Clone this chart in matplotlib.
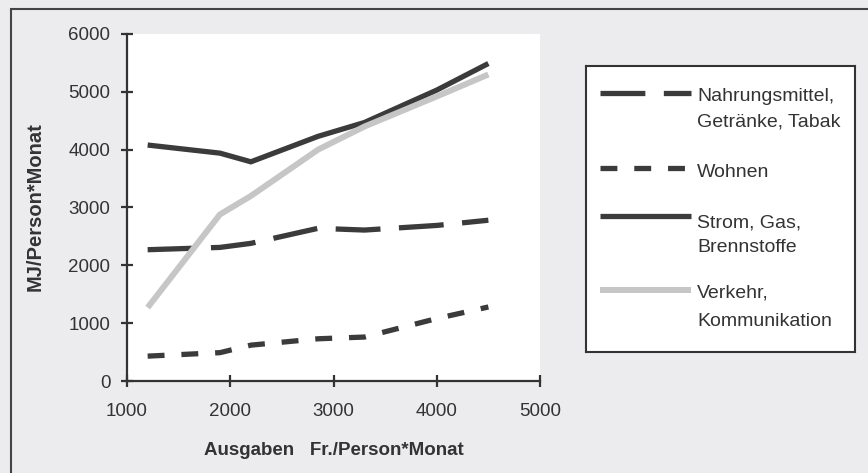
import matplotlib
matplotlib.use("Agg")
import matplotlib.pyplot as plt
from matplotlib.lines import Line2D
from matplotlib.patches import Rectangle

plt.rcParams['font.family'] = ['Liberation Sans', 'DejaVu Sans']

# Ausgaben Fr./Person*Monat
ausgaben = [1200, 1900, 2200, 2850, 3300, 4000, 4500]

# MJ/Person*Monat
nahrung = [2270, 2310, 2380, 2640, 2610, 2690, 2780]
wohnen = [430, 490, 620, 730, 760, 1080, 1280]
strom = [4080, 3940, 3790, 4230, 4470, 5030, 5490]
verkehr = [1270, 2880, 3200, 4000, 4400, 4920, 5300]

labels = [["Nahrungsmittel,", "Getränke, Tabak"], ["Wohnen"],
          ["Strom, Gas,", "Brennstoffe"], ["Verkehr,", "Kommunikation"]]

dark = '#3b3b3b'
light = '#c6c6c6'
W, H = 868, 473

fig = plt.figure(figsize=(W / 100, H / 100), dpi=100)
fig.patch.set_facecolor('#ececef')

# outer frame
fig.patches.append(Rectangle((11 / W, -0.1), 1.2, (H - 9) / H + 0.1,
                             transform=fig.transFigure, fill=False,
                             edgecolor='#444444', lw=1.5))

ax = fig.add_axes([127 / W, (H - 381) / H, 413 / W, 347 / H])
ax.set_facecolor('white')

lw = 3.8
styles = [
    dict(color=dark, lw=lw, dashes=(8.5, 3.5)),
    dict(color=dark, lw=lw, dashes=(3.2, 3.2)),
    dict(color=dark, lw=lw),
    dict(color=light, lw=4.3),
]
series = [nahrung, wohnen, strom, verkehr]
for vals, st in zip(series, styles):
    ax.plot(ausgaben, vals, solid_capstyle='butt', dash_capstyle='butt',
            solid_joinstyle='miter', **st)

ax.set_xlim(1000, 5000)
ax.set_ylim(0, 6000)
ax.set_xticks([1000, 2000, 3000, 4000, 5000])
ax.set_yticks([0, 1000, 2000, 3000, 4000, 5000, 6000])
for s in ['top', 'right']:
    ax.spines[s].set_visible(False)
for s in ['left', 'bottom']:
    ax.spines[s].set_color('#333333')
    ax.spines[s].set_linewidth(1.6)
ax.tick_params(direction='inout', length=8, width=1.6, color='#333333',
               labelsize=13.5, labelcolor='#333333')
ax.tick_params(axis='x', pad=12)
ax.tick_params(axis='y', pad=8)

ax.set_xlabel("Ausgaben   Fr./Person*Monat", fontsize=13.5, fontweight='bold',
              color='#333333', labelpad=16)
fig.text(35 / W, 1 - 207 / H, "MJ/Person*Monat", rotation=90, ha='center',
         va='center', fontsize=14.5, fontweight='bold', color='#333333')

# legend box
lx0, ly0, lx1, ly1 = 586, 66, 855, 352
lax = fig.add_axes([lx0 / W, 1 - ly1 / H, (lx1 - lx0) / W, (ly1 - ly0) / H])
lax.set_xlim(lx0, lx1)
lax.set_ylim(ly1, ly0)
lax.set_xticks([])
lax.set_yticks([])
lax.set_facecolor('white')
for s in lax.spines.values():
    s.set_linewidth(1.5)
    s.set_color('#333333')

handle_y = [93, 168, 216, 290]
line_y = [[94, 120], [170], [220, 245], [290, 319]]
for st, hy, lines, ys in zip(styles, handle_y, labels, line_y):
    lax.add_line(Line2D([600, 691], [hy, hy], solid_capstyle='butt',
                        dash_capstyle='butt', **st))
    for txt, ty in zip(lines, ys):
        lax.text(697, ty + 7, txt, ha='left', va='baseline', fontsize=14,
                 color='#333333')

fig.savefig('out.png', dpi=100, facecolor=fig.get_facecolor())
